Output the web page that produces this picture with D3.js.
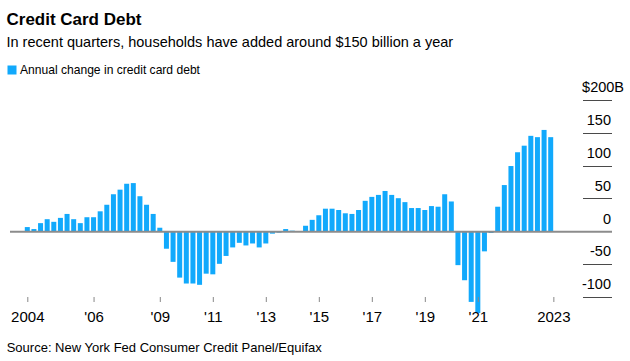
<!DOCTYPE html>
<html>
<head>
<meta charset="utf-8">
<script src="https://cdn.jsdelivr.net/npm/d3@7"></script>
<style>
  html, body { margin: 0; padding: 0; background: #fff; }
  svg { display: block; }
  text { font-family: "Liberation Sans", Arial, Helvetica, sans-serif; fill: #000; }
</style>
</head>
<body>
<svg id="chart" width="630" height="361"></svg>
<script>
// ---- Data (annual change in credit card debt, $B, quarterly 2004Q1–2023Q4) ----
const startYear = 2004;
const values = [
  7, 4, 13, 19, 15, 21, 27, 19, 13, 22, 22, 31, 41, 57, 64, 73, 74, 54, 41, 27, 6,
  -26, -46, -70, -79, -79, -81, -64, -65, -49, -37, -24, -17, -21, -18, -24, -18, -3, -1.5, 4, 1.5, 1,
  9, 18, 25, 35, 35, 33, 28, 27, 33, 47, 53, 56, 62, 56, 51, 45, 36, 36, 33, 39, 38,
  57, 46, -51, -74, -107, -124, -30, -2, 38, 71, 100, 121, 131, 146, 144, 155, 144
];
const quarters = values.map((v, i) => `${startYear + Math.floor(i / 4)}Q${(i % 4) + 1}`);
const xTickValues = [2004, 2006.5, 2009, 2011, 2013, 2015, 2017, 2019, 2021, 2023.85];
const xTickLabels = ["2004", "'06", "'09", "'11", "'13", "'15", "'17", "'19", "'21", "2023"];
const yTickValues = [-100, -50, 0, 50, 100, 150, 200];
const yTickLabels = ["-100", "-50", "0", "50", "100", "150", "$200B"];

const title = "Credit Card Debt";
const subtitle = "In recent quarters, households have added around $150 billion a year";
const legendLabel = "Annual change in credit card debt";
const source = "Source: New York Fed Consumer Credit Panel/Equifax";

// ---- Layout ----
const svg = d3.select("#chart");
const barColor = "#11a9fc";

const qToYear = (q) => +q.slice(0, 4) + (+q.slice(5) - 1) / 4;

const x = d3.scaleLinear().domain([2004, 2023.75]).range([27.3, 550.7]);
const y = d3.scaleLinear().domain([-100, 200]).range([297.3, 100.4]);
const barW = 5;

function fit(sel, target) {
  const n = sel.node();
  const w = n.getComputedTextLength();
  const fs = parseFloat(sel.attr("font-size"));
  sel.attr("font-size", (fs * target / w).toFixed(2));
}

// Titles
svg.append("text").attr("x", 6.5).attr("y", 24.5)
  .attr("font-size", 17).attr("font-weight", "bold").text(title)
  .call(fit, 135);
svg.append("text").attr("x", 6.5).attr("y", 46.5)
  .attr("font-size", 15.5).text(subtitle)
  .call(fit, 447);

// Legend
svg.append("rect").attr("x", 7.5).attr("y", 65.5).attr("width", 9).attr("height", 9)
  .attr("fill", barColor);
svg.append("text").attr("x", 20).attr("y", 74)
  .attr("font-size", 13).text(legendLabel)
  .call(fit, 180);

// Y gridlines (right side) and labels
const gridX0 = 582.7, gridX1 = 612;
svg.append("g").selectAll("line")
  .data(yTickValues.filter(d => d !== 0))
  .join("line")
  .attr("x1", gridX0).attr("x2", gridX1)
  .attr("y1", d => y(d)).attr("y2", d => y(d))
  .attr("stroke", "#4a4a4a").attr("stroke-width", 1)
  .attr("shape-rendering", "crispEdges");

svg.append("g").selectAll("text")
  .data(yTickValues)
  .join("text")
  .attr("x", (d, i) => yTickLabels[i].endsWith("B") ? 624 : 611)
  .attr("y", d => y(d) - 8)
  .attr("text-anchor", "end")
  .attr("font-size", 14.5)
  .text((d, i) => yTickLabels[i]);

// Bars
svg.append("g").selectAll("rect")
  .data(values.map((v, i) => ({ q: quarters[i], v })))
  .join("rect")
  .attr("x", d => x(qToYear(d.q)) - barW / 2)
  .attr("width", barW)
  .attr("y", d => y(Math.max(0, d.v)))
  .attr("height", d => Math.abs(y(d.v) - y(0)))
  .attr("fill", barColor);

// Zero line
svg.append("line")
  .attr("x1", 10).attr("x2", gridX1)
  .attr("y1", y(0)).attr("y2", y(0))
  .attr("stroke", "#8c8c8c").attr("stroke-width", 2);

// X axis
const xAxis = d3.axisBottom(x)
  .tickValues(xTickValues)
  .tickFormat((d, i) => xTickLabels[i])
  .tickSize(5)
  .tickPadding(10);
const gx = svg.append("g").attr("transform", "translate(0,297)").call(xAxis);
gx.select(".domain").remove();
gx.selectAll(".tick line").attr("stroke", "#888").attr("stroke-width", 1);
gx.selectAll(".tick text")
  .attr("font-family", '"Liberation Sans", Arial, sans-serif')
  .attr("font-size", 15).attr("fill", "#000")
  .attr("dy", null).attr("y", 25);

// Source
svg.append("text").attr("x", 6.7).attr("y", 351.7)
  .attr("font-size", 13).text(source)
  .call(fit, 315);
</script>
</body>
</html>
